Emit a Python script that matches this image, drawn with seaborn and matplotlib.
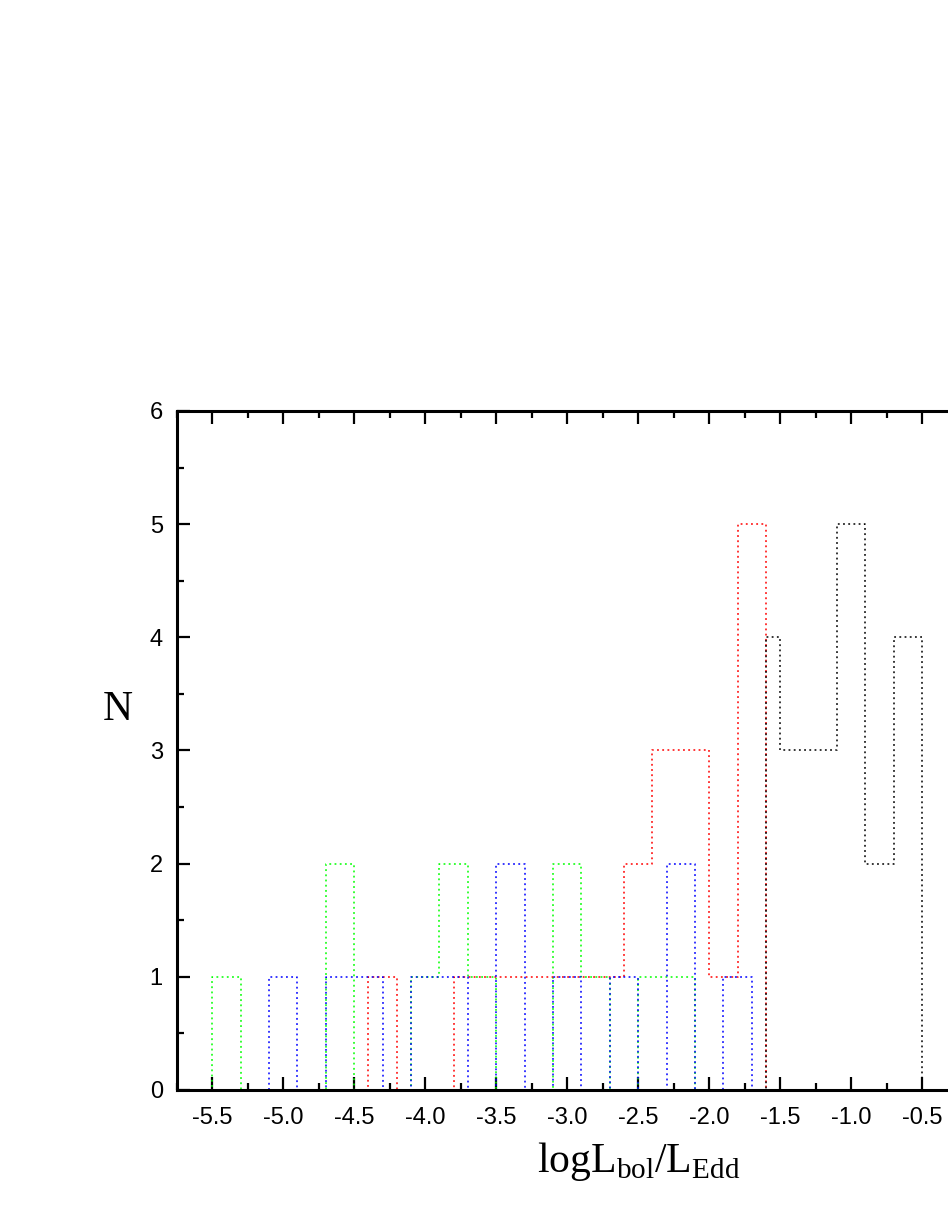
import matplotlib
matplotlib.use("Agg")
import matplotlib.pyplot as plt
import seaborn as sns
from matplotlib.ticker import MultipleLocator, FormatStrFormatter

sns.set_theme(style="ticks", rc={
    "axes.edgecolor": "black",
    "text.color": "black",
    "axes.labelcolor": "black",
    "xtick.color": "black",
    "ytick.color": "black",
})
plt.rcParams["font.family"] = ["Liberation Sans", "DejaVu Sans"]
plt.rcParams["mathtext.fontset"] = "custom"
plt.rcParams["mathtext.rm"] = "Liberation Serif"

# histogram bin edges and counts
green_edges = [-5.7, -5.5, -5.3, -5.1, -4.9, -4.7, -4.5, -4.3, -4.1, -3.9, -3.7,
               -3.5, -3.3, -3.1, -2.9, -2.7, -2.5, -2.3, -2.1, -1.9]
green_counts = [0, 1, 0, 0, 0, 2, 0, 0, 1, 2, 1, 0, 0, 2, 1, 0, 1, 1, 0]

blue_edges = [-5.5, -5.3, -5.1, -4.9, -4.7, -4.5, -4.3, -4.1, -3.9, -3.7, -3.5,
              -3.3, -3.1, -2.9, -2.7, -2.5, -2.3, -2.1, -1.9, -1.7, -1.5]
blue_counts = [0, 0, 1, 0, 1, 1, 0, 1, 1, 0, 2, 0, 1, 0, 1, 0, 2, 0, 1, 0]

red_edges = [-4.6, -4.4, -4.2, -4.0, -3.8, -3.6, -3.4, -3.2, -3.0, -2.8, -2.6,
             -2.4, -2.2, -2.0, -1.8, -1.6, -1.4, -1.2, -1.0]
red_counts = [0, 1, 0, 0, 1, 1, 1, 1, 1, 1, 2, 3, 3, 1, 5, 0, 0, 0]

black_edges = [-1.7, -1.6, -1.5, -1.3, -1.1, -0.9, -0.7, -0.5, -0.3]
black_counts = [0, 4, 3, 3, 5, 2, 4, 0]

series = [
    (green_edges, green_counts, "#00ff00"),
    (red_edges, red_counts, "#ff0000"),
    (blue_edges, blue_counts, "#0000ff"),
    (black_edges, black_counts, "black"),
]

fig = plt.figure(figsize=(9.48, 12.27), dpi=100)
# the right edge of the frame falls just outside the picture, as in the original
ax = fig.add_axes([0.1864, 0.1117, 0.8237, 0.5534])

for edges, counts, col in series:
    centers = [(a + b) / 2 for a, b in zip(edges[:-1], edges[1:])]
    sns.histplot(x=centers, weights=counts, bins=edges, element="step",
                 fill=False, color=col, linestyle=(0, (1.2, 2.2)),
                 linewidth=1.1, ax=ax)

ax.set_xlim(-5.75, -0.25)
ax.set_ylim(0, 6)
ax.xaxis.set_major_locator(MultipleLocator(0.5))
ax.xaxis.set_minor_locator(MultipleLocator(0.25))
ax.yaxis.set_major_locator(MultipleLocator(1))
ax.yaxis.set_minor_locator(MultipleLocator(0.5))
ax.xaxis.set_major_formatter(FormatStrFormatter("%.1f"))

for side in ["left", "top", "bottom", "right"]:
    ax.spines[side].set_linewidth(2.2)
    ax.spines[side].set_visible(True)

ax.tick_params(which="both", direction="in", top=True, bottom=True,
               left=True, right=False, width=1.6, labelsize=17)
ax.tick_params(which="major", length=9.5)
ax.tick_params(which="minor", length=5)
ax.tick_params(axis="x", which="major", pad=12)
ax.tick_params(axis="y", which="major", pad=10)

ax.set_xlabel(r"logL$_{\mathrm{bol}}$/L$_{\mathrm{Edd}}$", fontsize=30,
              family="Liberation Serif")
ax.xaxis.set_label_coords(0.591, -0.074)
ax.set_ylabel("N", fontsize=30, family="Liberation Serif", rotation=0,
              va="center", ha="center")
ax.yaxis.set_label_coords(-0.075, 0.56)

fig.savefig("out.png", dpi=100)
